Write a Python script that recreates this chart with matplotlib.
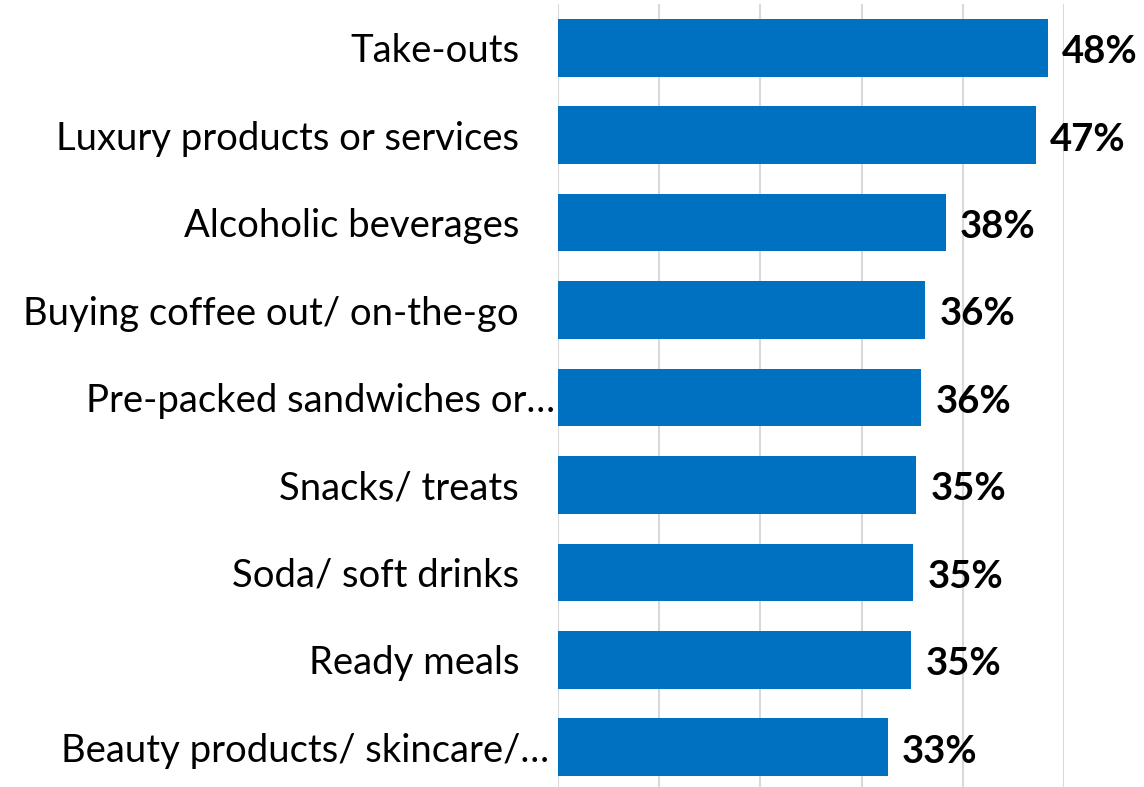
import matplotlib
matplotlib.use("Agg")
import matplotlib.pyplot as plt
import matplotlib.transforms as mtransforms

categories = ["Take-outs", "Luxury products or services", "Alcoholic beverages",
              "Buying coffee out/ on-the-go", "Pre-packed sandwiches or…",
              "Snacks/ treats", "Soda/ soft drinks", "Ready meals",
              "Beauty products/ skincare/…"]
values = [48.4, 47.2, 38.3, 36.3, 35.9, 35.4, 35.1, 34.9, 32.6]
value_labels = ["48%", "47%", "38%", "36%", "36%", "35%", "35%", "35%", "33%"]
xticks = [0, 10, 20, 30, 40, 50]

plt.rcParams['font.family'] = ['Lato', 'DejaVu Sans']

fig = plt.figure(figsize=(11.44, 7.87), dpi=100)
ax = fig.add_axes([558/1144, -4/787, (1064-558)/1144, (787-0)/787])

n = len(categories)
ypos = list(range(n))
ax.barh(ypos, values, height=0.66, color="#0070C0", zorder=3)
for y, v, lab in zip(ypos, values, value_labels):
    ax.text(v + 1.4, y + 0.05, lab, va="center", ha="left", fontsize=27.5,
            fontweight="bold", color="black")

ax.set_xlim(0, 50)
ax.set_ylim(n - 0.5, -0.5)
ax.set_xticks(xticks)
ax.set_xticklabels([])
ax.tick_params(axis="x", length=0)
ax.set_yticks(ypos)
ax.set_yticklabels(categories, fontsize=27.5)
ax.tick_params(axis="y", length=0, pad=28)
ax.grid(axis="x", color="#D9D9D9", linewidth=1.5, zorder=0)
for s in ax.spines.values():
    s.set_visible(False)

# truncated labels sit further right (no trailing gap), as in the original
shifts = {"Pre-packed sandwiches or…": 0.36, "Beauty products/ skincare/…": 0.30}
for t in ax.get_yticklabels():
    dx = shifts.get(t.get_text())
    if dx:
        t.set_transform(t.get_transform() +
                        mtransforms.ScaledTranslation(dx, 0, fig.dpi_scale_trans))

fig.savefig("out.png", dpi=100)
